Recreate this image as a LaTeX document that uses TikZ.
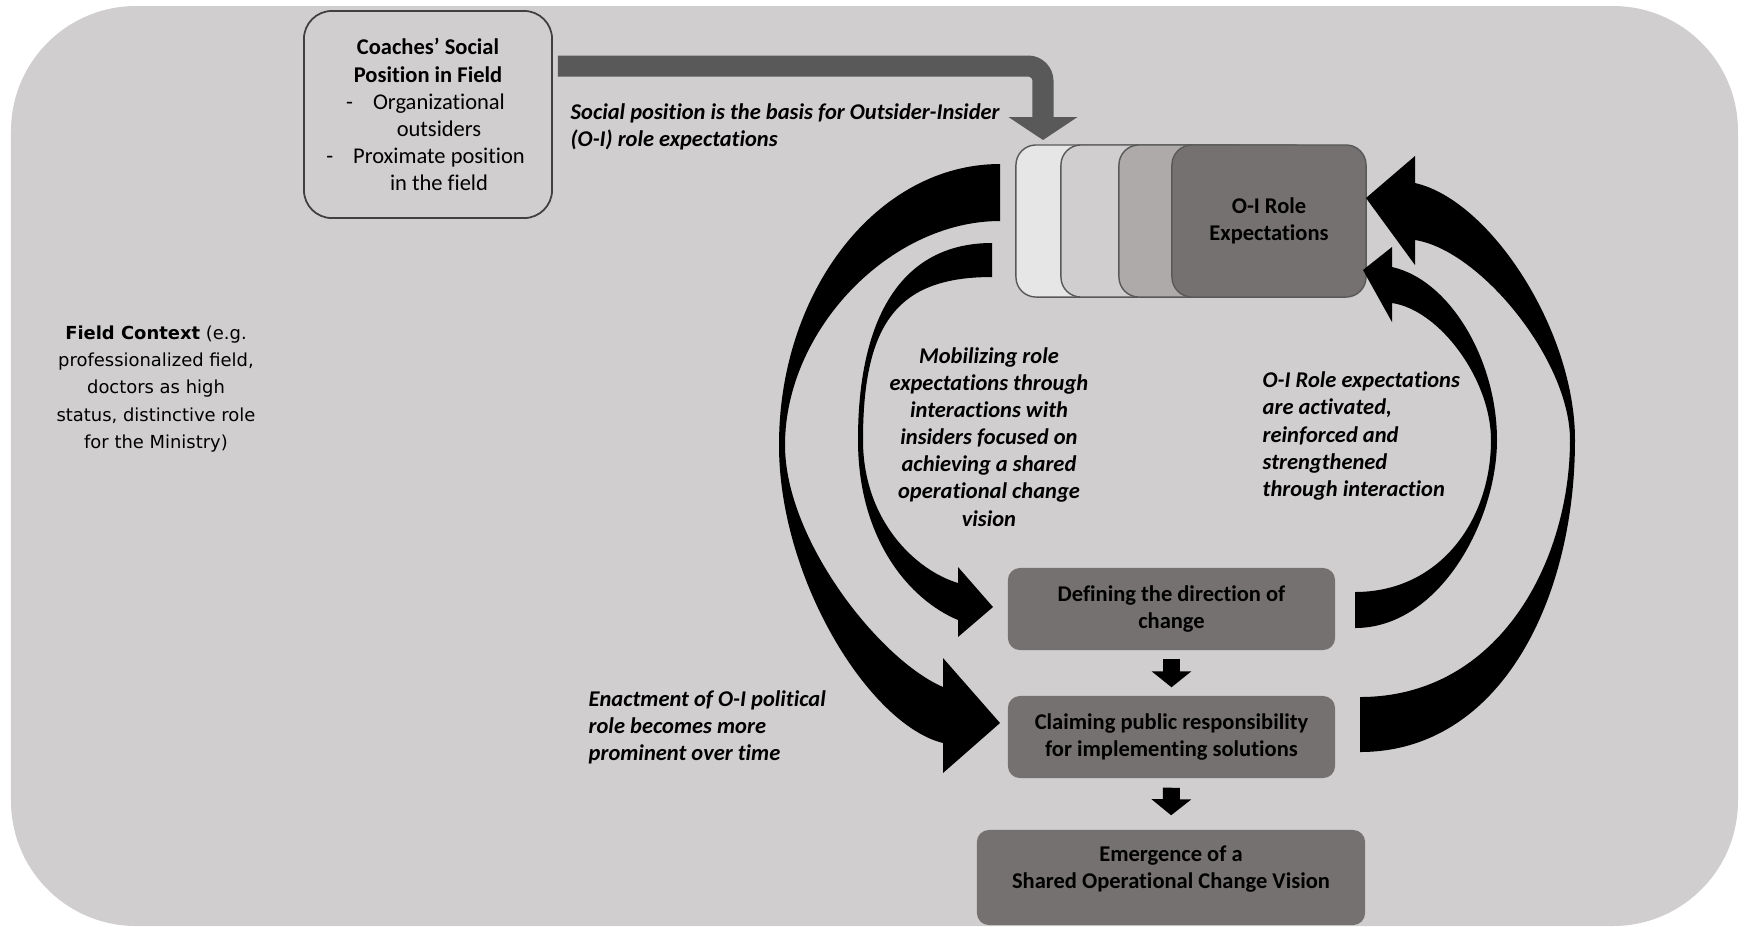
\documentclass[tikz,border=0pt]{standalone}
\usepackage{fontspec}
\setmainfont{Carlito}[Ligatures=NoCommon]
\newfontfamily\fieldfont{DejaVu Sans}
\usetikzlibrary{arrows.meta}

\definecolor{fieldgray}{HTML}{D0CECE}
\definecolor{boxgray}{HTML}{767171}
\definecolor{bandgray}{HTML}{595959}
\definecolor{stacklight}{HTML}{E7E6E6}
\definecolor{stackmid}{HTML}{AEAAAA}

\begin{document}
\begin{tikzpicture}[x=0.01cm, y=-0.01cm,
	every node/.style={inner sep=0pt, font=\fontsize{6.4}{7.7}\selectfont},
	coachbox/.style={draw=black!75, line width=0.5pt, fill=fieldgray, rounded corners=0.28cm, minimum width=2.48cm, minimum height=2.07cm, align=center},
	stackbox/.style={draw=bandgray, line width=0.4pt, rounded corners=0.2cm, minimum width=1.94cm, minimum height=1.52cm},
	stepbox/.style={fill=boxgray, rounded corners=0.12cm, minimum width=3.27cm, minimum height=0.82cm, align=center, font=\fontsize{6.4}{7.7}\selectfont\bfseries},
	notetext/.style={font=\fontsize{6.4}{7.7}\selectfont\bfseries\itshape},
	bandarrow/.style={draw=bandgray, line width=0.21cm, rounded corners=0.15cm, -{Triangle[width=0.68cm, length=0.23cm]}},
	downarrow/.style={line width=0.17cm, -{Triangle[width=0.39cm, length=0.16cm]}}]
	% Фон поля
	\useasboundingbox (0,0) rectangle (1747,926);
	\fill[fieldgray, rounded corners=1.25cm] (11,6) rectangle (1738,926);
	
	% Контекст поля
	\node[font=\fieldfont\fontsize{5.1}{7.7}\selectfont, align=center] (field) at (156,389)
		{\textbf{Field Context} (e.g.\\professionalized field,\\doctors as high\\status, distinctive role\\for the Ministry)};
	
	% Позиция тренеров
	\node[coachbox] (coach) at (428,114.5)
		{\textbf{Coaches’ Social}\\\textbf{Position in Field}\\
		\hspace*{0.22cm}\llap{-\hspace{0.2cm}}Organizational\\\hspace*{0.22cm}outsiders\\
		\hspace*{0.22cm}\llap{-\hspace{0.2cm}}Proximate position\\\hspace*{0.22cm}in the field};
	
	% Стопка ролевых ожиданий
	\node[stackbox, fill=stacklight] (st1) at (1113,221) {};
	\node[stackbox, fill=fieldgray] (st2) at (1158,221) {};
	\node[stackbox, fill=stackmid] (st3) at (1216,221) {};
	\node[stackbox, fill=boxgray, align=center, font=\fontsize{6.4}{7.7}\selectfont\bfseries] (st4) at (1269,221) {O-I Role\\Expectations};
	
	% Этапы
	\node[stepbox] (defn) at (1171.5,609) {Defining the direction of\\change};
	\node[stepbox] (claim) at (1171.5,737) {Claiming public responsibility\\for implementing solutions};
	\node[stepbox, minimum width=3.88cm, minimum height=0.95cm] (emerg) at (1171,877.5)
		{Emergence of a\\Shared Operational Change Vision\\[-0.07cm]\mbox{}};
	
	% Стрелка от позиции к ожиданиям
	\coordinate (bandrow) at (0,66);
	\coordinate (bandtip) at (1043,140);
	\draw[bandarrow] ([xshift=0.05cm]coach.east |- bandrow) -| (bandtip);
	
	% Стрелки вниз
	\draw[downarrow, shorten <=0.08cm, shorten >=0.08cm] (defn.south) -- (claim.north);
	\draw[downarrow, shorten <=0.09cm, shorten >=0.14cm] (claim.south) -- (emerg.north);
	
	% Большие изогнутые стрелки
	\fill (1000,164) .. controls (878,164) and (779,290) .. (779,445)
		.. controls (779,580) and (870,725) .. (943,743)
		-- (943,773) -- (1000,723) -- (943,658) -- (943,687)
		.. controls (880,660) and (785,540) .. (785,445)
		.. controls (785,330) and (890,221) .. (1000,221) -- cycle;
	\fill (992,243) .. controls (900,243) and (858,320) .. (858,440)
		.. controls (858,540) and (910,600) .. (958,620)
		-- (958,637) -- (993,607) -- (958,567) -- (958,583)
		.. controls (915,570) and (863,520) .. (863,440)
		.. controls (863,320) and (900,277) .. (992,277) -- cycle;
	\fill (1355,628) .. controls (1440,628) and (1497,520) .. (1497,440)
		.. controls (1497,360) and (1450,280) .. (1392,267)
		-- (1392,247) -- (1363,270) -- (1392,322) -- (1392,303)
		.. controls (1440,310) and (1491,380) .. (1491,440)
		.. controls (1491,520) and (1440,592) .. (1355,592) -- cycle;
	\fill (1360,752) .. controls (1500,752) and (1575,600) .. (1575,440)
		.. controls (1575,330) and (1490,200) .. (1415,183)
		-- (1415,156) -- (1366,198) -- (1415,265) -- (1415,240)
		.. controls (1480,250) and (1570,360) .. (1570,440)
		.. controls (1570,560) and (1500,697) .. (1360,697) -- cycle;
	
	% Подписи
	\node[notetext, anchor=west, align=left] (basis) at (570,127)
		{Social position is the basis for Outsider-Insider\\(O-I) role expectations};
	\node[notetext, align=center] (mobil) at (989,437)
		{Mobilizing role\\expectations through\\interactions with\\insiders focused on\\achieving a shared\\operational change\\vision};
	\node[notetext, anchor=west, align=left] (activ) at (1262,436)
		{O-I Role expectations\\are activated,\\reinforced and\\strengthened\\through interaction};
	\node[notetext, anchor=west, align=left] (enact) at (588,727)
		{Enactment of O-I political\\role becomes more\\prominent over time};
\end{tikzpicture}
\end{document}
